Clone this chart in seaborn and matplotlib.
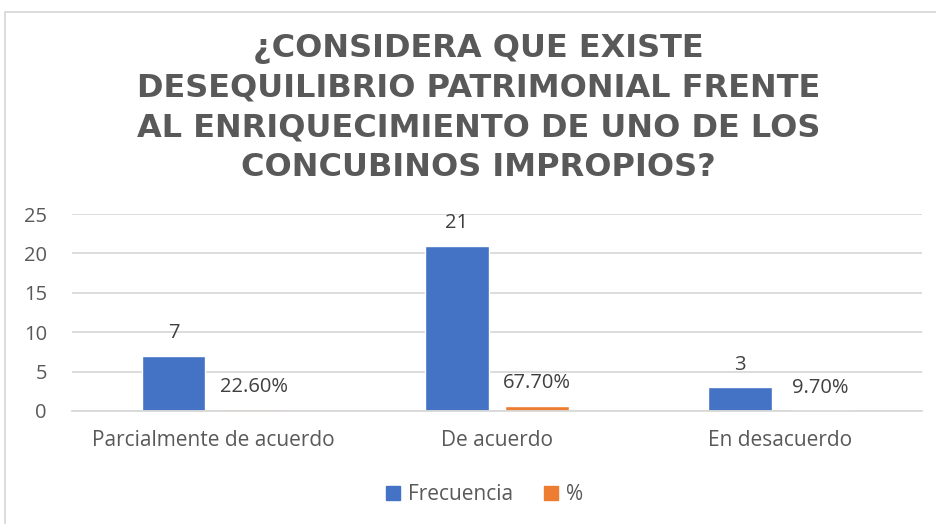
import pandas as pd
import matplotlib
matplotlib.use("Agg")
import matplotlib.pyplot as plt
import seaborn as sns
from matplotlib.patches import Rectangle, Patch

categorias = ["Parcialmente de acuerdo", "De acuerdo", "En desacuerdo"]
frecuencia = [7, 21, 3]
porcentaje = [0.226, 0.677, 0.097]
series = ["Frecuencia", "%"]
titulo = ("¿CONSIDERA QUE EXISTE\nDESEQUILIBRIO PATRIMONIAL FRENTE\n"
          "AL ENRIQUECIMIENTO DE UNO DE LOS\nCONCUBINOS IMPROPIOS?")

azul = "#4472C4"
naranja = "#ED7D31"
gris = "#D9D9D9"
texto = "#595959"

df = pd.DataFrame({
    "categoria": categorias * 2,
    "valor": frecuencia + porcentaje,
    "serie": [series[0]] * 3 + [series[1]] * 3,
})

sns.set_style("white")
plt.rcParams["font.family"] = ["Open Sans", "DejaVu Sans"]

fig = plt.figure(figsize=(9.36, 5.24), dpi=100)
ax = fig.add_axes([72 / 936, 1 - 411 / 524, 850 / 936, 197 / 524])

sns.barplot(data=df, x="categoria", y="valor", hue="serie",
            palette=[azul, naranja], saturation=1, width=0.568, gap=0.21,
            legend=False, ax=ax)

ax.set_ylim(0, 25)
ax.set_yticks([0, 5, 10, 15, 20, 25])
ax.set_xlim(-0.5, 2.5)
ax.yaxis.grid(True, color=gris, lw=1.3)
ax.set_axisbelow(True)
for s in ["top", "right", "left"]:
    ax.spines[s].set_visible(False)
ax.spines["bottom"].set_color(gris)
ax.spines["bottom"].set_linewidth(1.3)
ax.set_xlabel("")
ax.set_ylabel("")
ax.tick_params(axis="y", length=0, pad=18, labelsize=14.5, labelcolor=texto)
ax.tick_params(axis="x", length=0, pad=14, labelsize=15, labelcolor=texto)

ax.bar_label(ax.containers[0], labels=[str(v) for v in frecuencia],
             padding=9, fontsize=14.5, color="#404040")
ax.bar_label(ax.containers[1], labels=[f"{v:.2%}" for v in porcentaje],
             padding=9, fontsize=14.5, color="#404040")

fig.text(0.511, 1 - 108 / 524, titulo, ha="center", va="center",
         fontsize=23, fontweight="bold", color=texto, linespacing=1.36,
         family="DejaVu Sans")

handles = [Patch(color=azul), Patch(color=naranja)]
fig.legend(handles, series, loc="center", bbox_to_anchor=(0.518, 1 - 495 / 524),
           ncol=2, frameon=False, fontsize=15, handlelength=0.65,
           handleheight=0.65, handletextpad=0.4, columnspacing=1.5,
           labelcolor=texto)

fig.patches.append(Rectangle((5 / 936, -0.02), 1.0, 1 - 12 / 524 + 0.02,
                             transform=fig.transFigure, fill=False,
                             edgecolor=gris, lw=1.3))

fig.savefig("out.png", dpi=100)
